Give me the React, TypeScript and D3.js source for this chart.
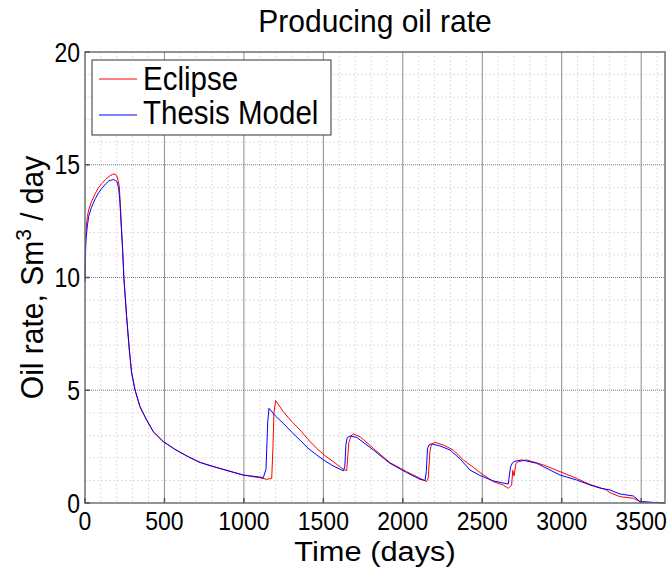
import React from "react";
import * as d3 from "d3";

const eclipseDays = [0, 3, 6, 15, 23, 40, 65, 85, 107, 130, 149, 174, 191, 200, 208, 216, 222, 229, 237, 245, 262, 279, 294, 315, 346, 388, 430, 493, 566, 650, 724, 800, 900, 996, 1100, 1143, 1175, 1183, 1189, 1200, 1248, 1300, 1353, 1400, 1458, 1510, 1563, 1626, 1647, 1655, 1661, 1675, 1688, 1731, 1815, 1919, 2024, 2108, 2150, 2160, 2171, 2180, 2203, 2255, 2318, 2381, 2444, 2486, 2569, 2632, 2664, 2685, 2692, 2700, 2712, 2727, 2780, 2884, 2989, 3094, 3178, 3241, 3280, 3304, 3367, 3451, 3493, 3560, 3650];
const eclipseRate = [10.0, 11.3, 12.1, 12.7, 13.0, 13.35, 13.73, 13.98, 14.18, 14.35, 14.47, 14.58, 14.58, 14.5, 14.3, 14.03, 13.3, 12.25, 11.2, 9.96, 8.26, 6.78, 5.75, 5.01, 4.27, 3.68, 3.16, 2.72, 2.38, 2.05, 1.8, 1.63, 1.43, 1.24, 1.12, 1.05, 1.09, 2.5, 4.0, 4.54, 4.05, 3.62, 3.24, 2.85, 2.42, 2.1, 1.83, 1.49, 1.43, 2.2, 2.7, 2.98, 3.06, 2.94, 2.42, 1.79, 1.39, 1.09, 0.95, 1.1, 2.3, 2.6, 2.69, 2.57, 2.35, 1.91, 1.58, 1.35, 0.95, 0.8, 0.65, 0.8, 1.45, 1.2, 1.75, 1.83, 1.91, 1.69, 1.39, 1.09, 0.82, 0.68, 0.58, 0.46, 0.28, 0.21, 0.06, 0.03, 0.0];

const thesisDays = [0, 3, 6, 15, 23, 40, 65, 85, 107, 130, 149, 180, 201, 212, 218, 224, 229, 237, 245, 262, 279, 294, 315, 346, 388, 430, 493, 566, 650, 724, 800, 900, 996, 1100, 1122, 1139, 1150, 1158, 1200, 1248, 1300, 1353, 1400, 1458, 1510, 1563, 1626, 1635, 1642, 1650, 1668, 1710, 1815, 1919, 2024, 2108, 2140, 2148, 2155, 2165, 2182, 2234, 2297, 2360, 2423, 2486, 2569, 2664, 2670, 2678, 2690, 2706, 2748, 2843, 2989, 3094, 3178, 3241, 3304, 3330, 3367, 3451, 3493, 3560, 3650];
const thesisRate = [9.8, 11.0, 11.66, 12.3, 12.7, 13.1, 13.5, 13.75, 13.96, 14.15, 14.28, 14.35, 14.25, 13.96, 13.5, 12.8, 12.2, 11.2, 9.96, 8.26, 6.78, 5.75, 5.01, 4.27, 3.68, 3.16, 2.72, 2.38, 2.05, 1.8, 1.63, 1.43, 1.24, 1.15, 1.12, 1.5, 3.6, 4.2, 3.85, 3.53, 3.15, 2.79, 2.45, 2.13, 1.87, 1.64, 1.43, 1.6, 2.6, 2.9, 2.97, 2.91, 2.35, 1.76, 1.35, 1.05, 1.0, 1.4, 2.4, 2.58, 2.62, 2.53, 2.35, 1.96, 1.46, 1.22, 0.98, 0.84, 1.2, 1.6, 1.78, 1.85, 1.91, 1.76, 1.24, 1.02, 0.8, 0.66, 0.58, 0.5, 0.4, 0.31, 0.06, 0.03, 0.0];

const xTicks = [0, 500, 1000, 1500, 2000, 2500, 3000, 3500];
const yTicks = [0, 5, 10, 15, 20];
const seriesNames = ["Eclipse", "Thesis Model"];

const W = 671, H = 568;
const L = 85, R = 665, T = 52, B = 503;
const FONT = "'Liberation Sans', Arial, sans-serif";

export default function App() {
  const x = d3.scaleLinear().domain([0, 3650]).range([L, R]);
  const y = d3.scaleLinear().domain([0, 20]).range([B, T]);
  const line = d3.line<[number, number]>().x(d => x(d[0])).y(d => y(d[1]));
  const ecl = eclipseDays.map((d, i) => [d, eclipseRate[i]] as [number, number]);
  const the = thesisDays.map((d, i) => [d, thesisRate[i]] as [number, number]);
  const xMinor = d3.range(0, 3651, 100).filter(v => v % 500 !== 0);
  const yMinor = d3.range(0, 21, 1).filter(v => v % 5 !== 0);

  return (
    <div style={{ position: "fixed", left: 0, top: 0 }}>
      <svg width={W} height={H} style={{ display: "block", background: "#fff" }} fontFamily={FONT}>
        <rect x={0} y={0} width={W} height={H} fill="#fff" />
        {xMinor.map(v => (
          <line key={"xm" + v} x1={x(v)} x2={x(v)} y1={T} y2={B} stroke="#dedede" strokeWidth={1} strokeDasharray="2,2" />
        ))}
        {yMinor.map(v => (
          <line key={"ym" + v} x1={L} x2={R} y1={y(v)} y2={y(v)} stroke="#dedede" strokeWidth={1} strokeDasharray="2,2" />
        ))}
        {xTicks.filter(v => v > 0).map(v => (
          <line key={"xg" + v} x1={x(v)} x2={x(v)} y1={T} y2={B} stroke="#8a8a8a" strokeWidth={1} />
        ))}
        {yTicks.filter(v => v > 0 && v < 20).map(v => (
          <line key={"yg" + v} x1={L} x2={R} y1={y(v)} y2={y(v)} stroke="#808080" strokeWidth={1} strokeDasharray="1,1" />
        ))}
        <path d={line(ecl) || ""} fill="none" stroke="#ff0000" strokeWidth={1} />
        <path d={line(the) || ""} fill="none" stroke="#0000ff" strokeWidth={1} />
        <rect x={L} y={T} width={R - L} height={B - T} fill="none" stroke="#707070" strokeWidth={1.5} />
        {xTicks.map(v => (
          <line key={"xt" + v} x1={x(v)} x2={x(v)} y1={B} y2={B - 5} stroke="#555" strokeWidth={1.5} />
        ))}
        {yTicks.map(v => (
          <line key={"yt" + v} x1={L} x2={L + 5} y1={y(v)} y2={y(v)} stroke="#555" strokeWidth={1.5} />
        ))}
        {xTicks.map(v => (
          <text key={"xl" + v} transform={`translate(${x(v)},530) scale(1,1.15)`} fontSize={23} textAnchor="middle" fill="#000">{v}</text>
        ))}
        {yTicks.map(v => (
          <text key={"yl" + v} transform={`translate(80,${y(v) + 9.5}) scale(1,1.18)`} fontSize={23} textAnchor="end" fill="#000">{v}</text>
        ))}
        <text transform="translate(375,32) scale(1,1.05)" fontSize={30} textAnchor="middle" fill="#000">Producing oil rate</text>
        <text transform="translate(375,561) scale(1.1,1)" fontSize={28} textAnchor="middle" fill="#000">Time (days)</text>
        <text transform={`translate(43,${(T + B) / 2}) rotate(-90) scale(1,1.05)`} fontSize={30} textAnchor="middle" fill="#000">
          Oil rate, Sm<tspan fontSize={21} dy={-11}>3</tspan><tspan dy={11}> / day</tspan>
        </text>
        <rect x={92} y={60} width={239} height={75} fill="#fff" stroke="#333" strokeWidth={1} />
        <line x1={99} x2={137} y1={79} y2={79} stroke="#ff0000" strokeWidth={1} />
        <line x1={99} x2={137} y1={115} y2={115} stroke="#0000ff" strokeWidth={1} />
        <text transform="translate(143,90) scale(1,1.1)" fontSize={29.5} fill="#000">{seriesNames[0]}</text>
        <text transform="translate(143,124) scale(1,1.1)" fontSize={29.5} fill="#000">{seriesNames[1]}</text>
      </svg>
    </div>
  );
}
